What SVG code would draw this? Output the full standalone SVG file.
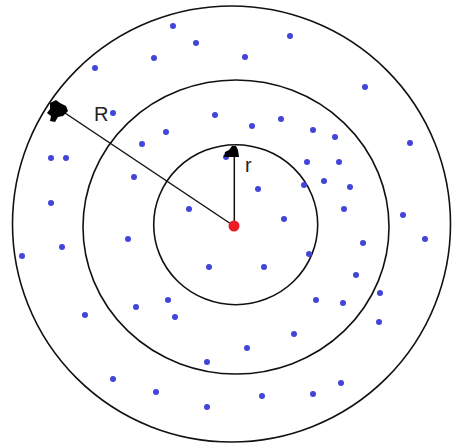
<svg xmlns="http://www.w3.org/2000/svg" width="453" height="443" viewBox="0 0 453 443">
<style>
.ring{fill:none;stroke:#111;stroke-width:1.6}
.d{fill:#4146d8}
.lbl{font-family:"Liberation Sans",Arial,sans-serif;font-size:20px;fill:#222}
</style>
<rect width="453" height="443" fill="#fff"/>
<g id="rings">
<ellipse id="outer" class="ring" cx="231.5" cy="224" rx="219" ry="218"/>
<ellipse id="middle" class="ring" cx="236" cy="227" rx="153" ry="147"/>
<ellipse id="inner" class="ring" cx="235.7" cy="224.7" rx="82" ry="80"/>
</g>
<g id="dots">
<circle class="d" cx="95" cy="68" r="3"/><circle class="d" cx="154" cy="58" r="3"/>
<circle class="d" cx="173" cy="26" r="3"/><circle class="d" cx="196" cy="43" r="3"/>
<circle class="d" cx="245" cy="57" r="3"/><circle class="d" cx="290" cy="36" r="3"/>
<circle class="d" cx="365" cy="87" r="3"/><circle class="d" cx="410" cy="143" r="3"/>
<circle class="d" cx="113" cy="113" r="3"/><circle class="d" cx="142" cy="144" r="3"/>
<circle class="d" cx="166" cy="132" r="3"/><circle class="d" cx="215" cy="115" r="3"/>
<circle class="d" cx="252" cy="126" r="3"/><circle class="d" cx="281" cy="119" r="3"/>
<circle class="d" cx="313" cy="130" r="3"/><circle class="d" cx="335" cy="137" r="3"/>
<circle class="d" cx="51" cy="158" r="3"/><circle class="d" cx="66" cy="158" r="3"/>
<circle class="d" cx="134" cy="177" r="3"/><circle class="d" cx="51" cy="203" r="3"/>
<circle class="d" cx="62" cy="247" r="3"/><circle class="d" cx="22" cy="256" r="3"/>
<circle class="d" cx="128" cy="239" r="3"/><circle class="d" cx="226" cy="157" r="3"/>
<circle class="d" cx="258" cy="189" r="3"/><circle class="d" cx="189" cy="209" r="3"/>
<circle class="d" cx="284" cy="219" r="3"/><circle class="d" cx="209" cy="267" r="3"/>
<circle class="d" cx="264" cy="267" r="3"/><circle class="d" cx="307" cy="162" r="3"/>
<circle class="d" cx="339" cy="162" r="3"/><circle class="d" cx="324" cy="181" r="3"/>
<circle class="d" cx="304" cy="185" r="3"/><circle class="d" cx="350" cy="187" r="3"/>
<circle class="d" cx="344" cy="209" r="3"/><circle class="d" cx="403" cy="215" r="3"/>
<circle class="d" cx="425" cy="239" r="3"/><circle class="d" cx="363" cy="243" r="3"/>
<circle class="d" cx="309" cy="254" r="3"/><circle class="d" cx="356" cy="275" r="3"/>
<circle class="d" cx="380" cy="293" r="3"/><circle class="d" cx="85" cy="315" r="3"/>
<circle class="d" cx="136" cy="307" r="3"/><circle class="d" cx="113" cy="379" r="3"/>
<circle class="d" cx="168" cy="300" r="3"/><circle class="d" cx="175" cy="317" r="3"/>
<circle class="d" cx="294" cy="334" r="3"/><circle class="d" cx="247" cy="348" r="3"/>
<circle class="d" cx="207" cy="362" r="3"/><circle class="d" cx="156" cy="392" r="3"/>
<circle class="d" cx="207" cy="407" r="3"/><circle class="d" cx="262" cy="396" r="3"/>
<circle class="d" cx="316" cy="300" r="3"/><circle class="d" cx="343" cy="303" r="3"/>
<circle class="d" cx="379" cy="322" r="3"/><circle class="d" cx="341" cy="383" r="3"/>
<circle class="d" cx="313" cy="394" r="3"/>
</g>
<g id="connectors" stroke="#111" stroke-width="1.5" fill="none">
<line x1="62" y1="111" x2="234" y2="226"/>
<line x1="234.3" y1="147" x2="234.3" y2="226"/>
</g>
<g id="markerR" fill="#000">
<path d="M50,103 L56,100 L60,103 L66,106 L68,111 L63,116 L58,117 L55,122 L50,121 L51,116 L47,113 L50,109 Z"/>
</g>
<g id="markerr" fill="#000">
<path d="M224,157 L225,152 L229,150 L232,146 L236,146 L238,150 L239,157 Z"/>
</g>
<g id="center"><circle cx="234" cy="226" r="5.5" fill="#ec1c24"/></g>
<g id="labels">
<text class="lbl" x="94" y="121">R</text>
<text class="lbl" x="245" y="172">r</text>
</g>
</svg>
